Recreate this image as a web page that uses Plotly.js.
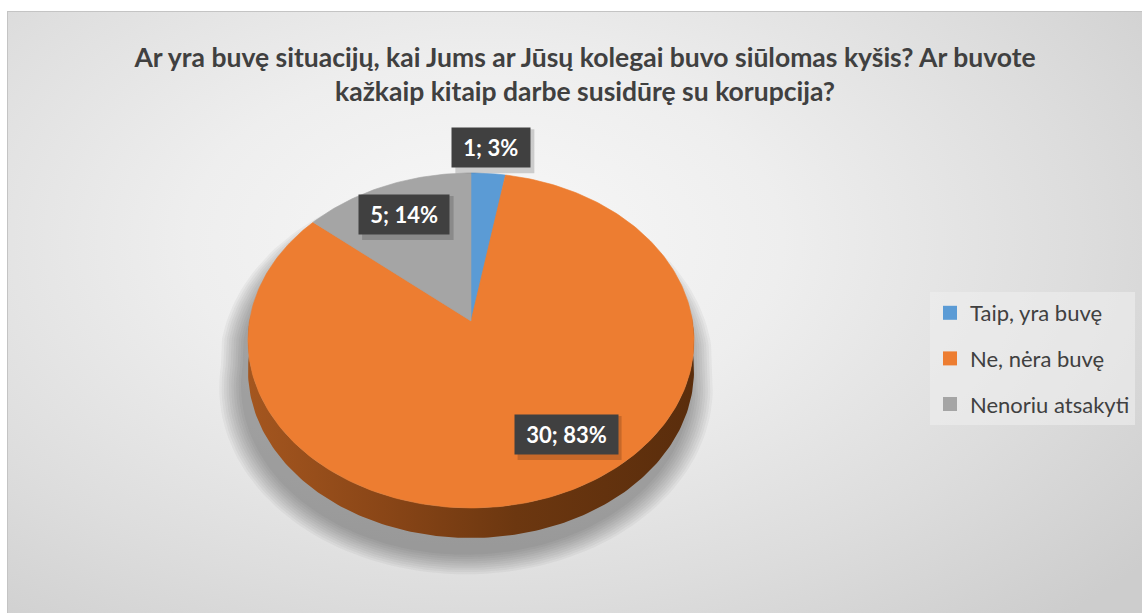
<!DOCTYPE html>
<html>
<head>
<meta charset="utf-8">
<script src="https://cdn.plot.ly/plotly-3.0.1.min.js"></script>
<style>
  html, body { margin: 0; padding: 0; background: #ffffff; }
  #frame {
    position: absolute; left: 7px; top: 11px; width: 1135px; height: 602px;
    border-left: 1px solid #c4c4c4; border-top: 1px solid #c4c4c4;
    background: radial-gradient(ellipse 75% 85% at 42% 38%, #f8f8f8 0%, #eeeeee 35%, #dddddd 70%, #cdcdcd 100%);
  }
  #chart { position: absolute; left: 0; top: 0; width: 1142px; height: 613px; }
</style>
</head>
<body>
<div id="frame"></div>
<div id="chart"></div>
<script>
// ---- data ----
const titleText = 'Ar yra buvę situacijų, kai Jums ar Jūsų kolegai buvo siūlomas kyšis? Ar buvote<br>kažkaip kitaip darbe susidūrę su korupcija?';
const categories = ['Taip, yra buvę', 'Ne, nėra buvę', 'Nenoriu atsakyti'];
const counts = [1, 30, 5];
const sliceColors = ['#5b9bd5', '#ed7d31', '#a5a5a5'];

// ---- 3D pie geometry (layout constants, pixel-like axis units) ----
const CX = 471, CY = 321;      // projected centre of the pie top
const RX = 221.5, RY = 165.2;  // radii
const PK = 0.1164;             // perspective factor
const DEPTH = 30;              // thickness of the side wall
// label placement per category (same order as categories)
const labelRadius = [1.2, 0.75, 0.77];
const labelAngleShift = [0, -12, 0];

function proj(thetaDeg, r, dy) {
  const t = thetaDeg * Math.PI / 180;
  const u = Math.sin(t) * r, w = Math.cos(t) * r;
  const s = 1 / (1 + PK * w);
  return [CX + RX * u * s, CY - RY * w * s + (dy || 0)];
}

const total = counts.reduce((a, b) => a + b, 0);
const traces = [];

// soft shadow under the pie
for (let k = 0; k < 10; k++) {
  const xs = [], ys = [];
  for (let a = 0; a <= 360; a += 2) {
    const t = a * Math.PI / 180;
    const u = Math.sin(t), w = Math.cos(t);
    const s = 1 / (1 + PK * w);
    const e = 2 + k * 2.4;
    xs.push(CX - 5 + (RX + e) * u * s);
    ys.push(CY + 24 - (RY + e * 0.8) * w * s + (w < 0 ? DEPTH * 0.7 : 0));
  }
  traces.push({ type: 'scatter', x: xs, y: ys, mode: 'lines', fill: 'toself',
    line: { width: 0 }, fillcolor: 'rgba(60,60,60,0.05)', hoverinfo: 'skip', showlegend: false });
}

// side wall (front half)
{
  const xs = [], ys = [];
  for (let a = 88; a <= 272; a += 1) { const p = proj(a, 1, 0); xs.push(p[0]); ys.push(p[1]); }
  for (let a = 272; a >= 88; a -= 1) { const p = proj(a, 1, DEPTH); xs.push(p[0]); ys.push(p[1]); }
  traces.push({ type: 'scatter', x: xs, y: ys, mode: 'lines', fill: 'toself',
    line: { width: 0 }, fillcolor: '#7a3e14',
    fillgradient: { type: 'horizontal', colorscale: [[0, '#a4561f'], [0.3, '#8a4617'], [0.6, '#6c3710'], [1, '#5a2d0c']] },
    hoverinfo: 'skip', showlegend: false });
}

// top face slices (clockwise from 12 o'clock)
const mids = [];
let start = 0;
counts.forEach((v, i) => {
  const sweep = v / total * 360;
  const xs = [CX], ys = [CY];
  const n = Math.max(4, Math.ceil(sweep));
  for (let j = 0; j <= n; j++) {
    const p = proj(start + sweep * j / n, 1, 0);
    xs.push(p[0]); ys.push(p[1]);
  }
  xs.push(CX); ys.push(CY);
  traces.push({ type: 'scatter', x: xs, y: ys, mode: 'lines', fill: 'toself',
    line: { width: 0.6, color: sliceColors[i] }, fillcolor: sliceColors[i],
    hoverinfo: 'skip', showlegend: false });
  mids.push(start + sweep / 2);
  start += sweep;
});

// legend entries
categories.forEach((c, i) => {
  traces.push({ type: 'scatter', x: [null], y: [null], mode: 'markers', name: c,
    legendgroup: 'g' + i,
    marker: { symbol: 'square', size: 14, color: sliceColors[i] } });
});

// data labels (dark boxes with a soft drop shadow)
const annotations = [];
const shapes = [];
counts.forEach((v, i) => {
  const pct = Math.round(v / total * 100);
  const plain = v + '; ' + pct + '%';
  const p = proj(mids[i] + labelAngleShift[i], labelRadius[i], 0);
  const halfW = (plain.length * 12.5 + 15.5) / 2, halfH = 21.5;
  shapes.push({ type: 'rect', xref: 'x', yref: 'y', layer: 'above',
    x0: p[0] - halfW + 3, x1: p[0] + halfW + 4, y0: p[1] - halfH + 3, y1: p[1] + halfH + 4,
    fillcolor: 'rgba(0,0,0,0.16)', line: { width: 0 } });
  annotations.push({ x: p[0], y: p[1], xref: 'x', yref: 'y',
    text: '<b>&nbsp;' + plain + '&nbsp;</b>', showarrow: false,
    bgcolor: '#404040', borderpad: 6,
    font: { family: 'Lato, sans-serif', size: 22, color: '#ffffff' } });
});

const layout = {
  width: 1142, height: 613,
  margin: { l: 0, r: 0, t: 0, b: 0 },
  paper_bgcolor: 'rgba(0,0,0,0)', plot_bgcolor: 'rgba(0,0,0,0)',
  xaxis: { range: [0, 1142], visible: false, fixedrange: true },
  yaxis: { range: [613, 0], visible: false, fixedrange: true },
  title: { text: '<b>' + titleText + '</b>', x: 585 / 1142, xanchor: 'center', xref: 'paper',
    y: 1 - 67 / 613, yanchor: 'middle', yref: 'container',
    font: { family: 'Lato, sans-serif', size: 26.5, color: '#404040' } },
  showlegend: true,
  legend: { x: 930 / 1142, xanchor: 'left', y: 1 - 292 / 613, yanchor: 'top',
    bgcolor: 'rgba(238,238,238,0.6)', font: { family: 'Lato, sans-serif', size: 22, color: '#404040' },
    tracegroupgap: 14, itemwidth: 30 },
  shapes: shapes,
  annotations: annotations
};

Plotly.newPlot('chart', traces, layout, { staticPlot: true, displayModeBar: false });
</script>
</body>
</html>
